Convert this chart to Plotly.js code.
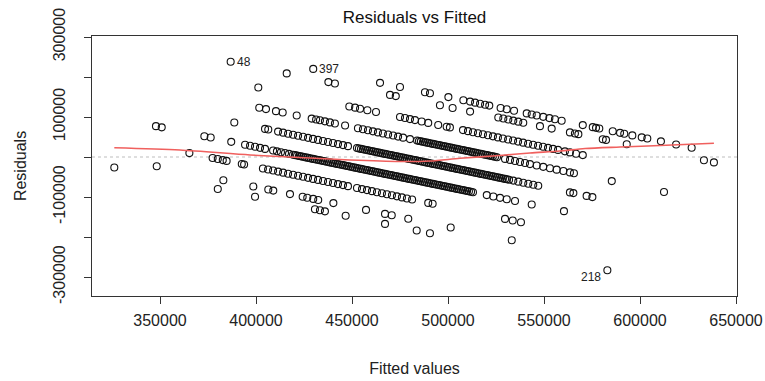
<!DOCTYPE html>
<html>
<head>
<meta charset="utf-8">
<script src="https://cdn.plot.ly/plotly-3.0.1.min.js"></script>
<style>html,body{margin:0;padding:0;background:#fff;}#chart{width:765px;height:381px;}</style>
</head>
<body>
<div id="chart"></div>
<script>
// Points, grouped by the diagonal bands they sit on
var fit300 = [326200, 380100, 399500, 430700, 433300, 435900, 446700, 467200, 483700, 490600, 583000];
var res300 = [-26200, -80100, -99500, -130700, -133300, -135900, -146700, -167200, -183700, -190600, -283000];

var fit325 = [348300, 383000, 398600, 406400, 409000, 417700, 424300, 426700, 429800, 432400, 440300, 457300, 467200, 470700, 479300, 501400, 533200];
var res325 = [-23300, -58000, -73600, -81400, -84000, -92700, -99300, -101700, -104800, -107400, -115300, -132300, -142200, -145700, -154300, -176400, -208200];

var fit375 = [365300, 377400, 380100, 382700, 384700, 392600, 393800, 403600, 406300, 408900, 411500, 414100, 416700, 419300, 421900, 424500, 427100, 429700, 432300, 434900, 437500, 440100, 442700, 445300, 447900, 452600, 455200, 457800, 460400, 463000, 465600, 468200, 470800, 473400, 476000, 478600, 481300, 489700, 492000, 529700, 533700, 538000];
var res375 = [9700, -2400, -5100, -7700, -9700, -17600, -18800, -28600, -31300, -33900, -36500, -39100, -41700, -44300, -46900, -49500, -52100, -54700, -57300, -59900, -62500, -65100, -67700, -70300, -72900, -77600, -80200, -82800, -85400, -88000, -90600, -93200, -95800, -98400, -101000, -103600, -106300, -114700, -117000, -154700, -158700, -163000];

var fit425 = [347900, 350900, 373100, 376400, 387100, 394300, 396900, 399500, 402100, 404700, 408900, 410900, 413000, 415100, 417200, 419300, 421400, 423400, 425500, 427600, 429700, 431800, 433900, 435900, 438000, 440100, 442200, 444300, 446400, 448400, 450500, 452600, 454700, 456800, 458900, 460900, 463000, 465100, 467200, 469300, 471400, 473400, 475500, 477600, 479700, 481800, 483900, 485900, 488000, 490100, 492200, 494300, 496400, 498400, 500500, 502600, 504700, 506800, 508900, 510900, 513000, 520200, 523600, 527100, 530600, 534900, 543600, 560400];
var res425 = [77100, 74100, 51900, 48600, 37900, 30700, 28100, 25500, 22900, 20300, 16100, 14100, 12000, 9900, 7800, 5700, 3600, 1600, -500, -2600, -4700, -6800, -8900, -10900, -13000, -15100, -17200, -19300, -21400, -23400, -25500, -27600, -29700, -31800, -33900, -35900, -38000, -40100, -42200, -44300, -46400, -48400, -50500, -52600, -54700, -56800, -58900, -60900, -63000, -65100, -67200, -69300, -71400, -73400, -75500, -77600, -79700, -81800, -83900, -85900, -88000, -95200, -98600, -102100, -105600, -109900, -118600, -135400];
// more points packed in the solid black stretch of the same band
var fit425b = [420300, 422400, 424500, 426600, 428600, 430700, 432800, 434900, 437000, 439100, 441100, 443200, 445300, 447400, 449500, 451600, 453600, 455700, 457800, 459900, 462000, 464100, 466100, 468200, 470300, 472400, 474500, 476600, 478600, 480700, 482800, 484900, 487000, 489100, 491100, 493200, 495300, 497400, 499500, 501600, 503600, 505700, 507800, 509900, 512000];
var res425b = [4700, 2600, 500, -1600, -3600, -5700, -7800, -9900, -12000, -14100, -16100, -18200, -20300, -22400, -24500, -26600, -28600, -30700, -32800, -34900, -37000, -39100, -41100, -43200, -45300, -47400, -49500, -51600, -53600, -55700, -57800, -59900, -62000, -64100, -66100, -68200, -70300, -72400, -74500, -76600, -78600, -80700, -82800, -84900, -87000];

var fit475 = [388700, 404700, 406400, 411500, 414100, 416700, 419300, 421900, 424500, 427100, 429700, 432300, 434900, 437500, 440100, 442700, 445300, 447900, 452600, 454700, 456800, 458900, 460900, 463000, 465100, 467200, 469300, 471400, 473400, 475500, 477600, 479700, 481800, 483900, 485900, 488000, 490100, 492200, 494300, 496400, 498400, 500500, 502600, 504700, 506800, 508900, 510900, 513000, 515100, 517200, 519300, 521400, 523400, 525500, 527600, 529700, 531800, 534000, 536600, 539200, 541800, 544400, 547000, 563500, 565300, 572200, 575200];
var res475 = [86300, 70300, 68600, 63500, 60900, 58300, 55700, 53100, 50500, 47900, 45300, 42700, 40100, 37500, 34900, 32300, 29700, 27100, 22400, 20300, 18200, 16100, 14100, 12000, 9900, 7800, 5700, 3600, 1600, -500, -2600, -4700, -6800, -8900, -10900, -13000, -15100, -17200, -19300, -21400, -23400, -25500, -27600, -29700, -31800, -33900, -35900, -38000, -40100, -42200, -44300, -46400, -48400, -50500, -52600, -54700, -56800, -59000, -61600, -64200, -66800, -69400, -72000, -88500, -90300, -97200, -100200];
var fit475b = [453600, 455700, 457800, 459900, 462000, 464100, 466100, 468200, 470300, 472400, 474500, 476600, 478600, 480700, 482800, 484900, 487000, 489100, 491100, 493200, 495300, 497400, 499500, 501600, 503600, 505700, 507800, 509900, 512000, 514100, 516100, 518200, 520300, 522400, 524500, 526600, 528600, 530700];
var res475b = [21400, 19300, 17200, 15100, 13000, 10900, 8900, 6800, 4700, 2600, 500, -1600, -3600, -5700, -7800, -9900, -12000, -14100, -16100, -18200, -20300, -22400, -24500, -26600, -28600, -30700, -32800, -34900, -37000, -39100, -41100, -43200, -45300, -47400, -49500, -51600, -53600, -55700];

var fit525 = [401700, 405200, 410400, 413900, 421200, 429000, 431300, 433300, 435900, 438500, 441100, 446400, 453100, 455700, 458300, 460900, 463500, 466100, 468800, 471400, 474000, 476600, 480200, 483900, 485900, 488000, 490100, 492200, 494300, 496400, 498400, 500500, 502600, 504700, 506800, 508900, 510900, 513000, 515100, 517200, 519300, 521400, 523400, 525500, 529700, 532300, 534900, 537500, 540100, 542700, 546200, 549600, 553100, 556600, 560100, 563500, 565600, 585300, 612500];
var res525 = [123300, 119800, 114600, 111100, 103800, 96000, 93700, 91700, 89100, 86500, 83900, 78600, 71900, 69300, 66700, 64100, 61500, 58900, 56200, 53600, 51000, 48400, 44800, 41100, 39100, 37000, 34900, 32800, 30700, 28600, 26600, 24500, 22400, 20300, 18200, 16100, 14100, 12000, 9900, 7800, 5700, 3600, 1600, -500, -4700, -7300, -9900, -12500, -15100, -17700, -21200, -24600, -28100, -31600, -35100, -38500, -40600, -60300, -87500];
var fit525b = [484900, 487000, 489100, 491100, 493200, 495300, 497400, 499500, 501600, 503600, 505700, 507800, 509900, 512000, 514100, 516100, 518200, 520300, 522400, 524500];
var res525b = [40100, 38000, 35900, 33900, 31800, 29700, 27600, 25500, 23400, 21400, 19300, 17200, 15100, 13000, 10900, 8900, 6800, 4700, 2600, 500];

var fit575 = [401200, 448600, 451600, 454200, 458000, 462500, 475000, 477600, 480200, 482800, 486300, 489700, 494900, 499300, 501000, 507800, 510400, 513000, 515600, 518200, 520800, 523400, 526000, 528600, 531300, 533900, 536500, 539100, 541700, 544300, 546900, 549500, 552100, 554700, 557300, 560900, 563500, 566700, 570200];
var res575 = [173800, 126400, 123400, 120800, 117000, 112500, 100000, 97400, 94800, 92200, 88700, 85300, 80100, 75700, 74000, 67200, 64600, 62000, 59400, 56800, 54200, 51600, 49000, 46400, 43700, 41100, 38500, 35900, 33300, 30700, 28100, 25500, 22900, 20300, 17700, 14100, 11500, 8300, 4800];

var fit625 = [386800, 416000, 437700, 441100, 469800, 472800, 495800, 502400, 511500, 526200, 528800, 531400, 534000, 536600, 539200, 547900, 554000, 563500, 566100, 567900, 580600, 582300, 593100, 633300, 638500];
var res625 = [238200, 209000, 187300, 183900, 155200, 152200, 129200, 122600, 113500, 98800, 96200, 93600, 91000, 88400, 85800, 77100, 71000, 61500, 58900, 57100, 44400, 42700, 31900, -8300, -13500];

var fit650 = [429800, 464600, 475000, 488000, 490600, 500200, 508000, 511500, 514100, 516700, 519300, 521500, 527400, 530600, 534400, 541000, 543600, 546200, 549600, 552800, 555700, 559200, 570200, 575400, 577100, 578800, 585800, 589600, 591800, 596000, 600900, 603800, 610900, 618800, 626900];
var res650 = [220200, 185400, 175000, 162000, 159400, 149800, 142000, 138500, 135900, 133300, 130700, 128500, 122600, 119400, 115600, 109000, 106400, 103800, 100400, 97200, 94300, 90800, 79800, 74600, 72900, 71200, 64200, 60400, 58200, 54000, 49100, 46200, 39100, 31200, 23100];

// Smoother (red line)
var smoothFit = [326200, 360400, 396900, 422900, 449000, 475000, 490600, 506300, 527100, 542700, 558300, 571400, 589600, 610400, 638500];
var smoothRes = [23250, 17500, 5000, -1250, -7500, -11250, -10000, -3250, 3750, 10000, 15000, 21250, 25000, 28750, 34250];

// Labelled observations
var idLabels = ['48', '397', '218'];
var idFitted = [386800, 429800, 583000];
var idResid = [238200, 220200, -283000];
var idSide = ['right', 'right', 'left'];

// Axis ticks
var xTickVals = [350000, 400000, 450000, 500000, 550000, 600000, 650000];
var xTickText = ['350000', '400000', '450000', '500000', '550000', '600000', '650000'];
var yTickVals = [-300000, -200000, -100000, 0, 100000, 200000, 300000];
var yTickText = ['-300000', '', '-100000', '', '100000', '', '300000'];

var allFit = [].concat(fit300, fit325, fit375, fit425, fit425b, fit475, fit475b, fit525, fit525b, fit575, fit625, fit650);
var allRes = [].concat(res300, res325, res375, res425, res425b, res475, res475b, res525, res525b, res575, res625, res650);

var FONT = 'Liberation Sans, Arial, Helvetica, sans-serif';

var traces = [
  {
    type: 'scatter', mode: 'markers', x: allFit, y: allRes,
    marker: {symbol: 'circle-open', size: 7, color: '#111', line: {width: 1.1, color: '#111'}},
    hoverinfo: 'x+y', showlegend: false
  },
  {
    type: 'scatter', mode: 'lines', x: smoothFit, y: smoothRes,
    line: {color: '#F0605E', width: 1.6, shape: 'spline', smoothing: 0.8},
    hoverinfo: 'skip', showlegend: false
  }
];

var annotations = idLabels.map(function (lab, i) {
  var right = idSide[i] === 'right';
  return {
    x: idFitted[i], y: idResid[i], xref: 'x', yref: 'y', text: lab, showarrow: false,
    xanchor: right ? 'left' : 'right', yanchor: 'middle',
    xshift: right ? 4 : -4, yshift: right ? 0 : -7,
    font: {family: FONT, size: 12, color: '#222'}
  };
});

var layout = {
  width: 765, height: 381,
  margin: {l: 92, r: 28, t: 36, b: 85, pad: 0},
  paper_bgcolor: '#fff', plot_bgcolor: '#fff',
  font: {family: FONT, size: 16, color: '#222'},
  title: {text: 'Residuals vs Fitted', font: {family: FONT, size: 17, color: '#111'},
          x: 0.5, xref: 'paper', y: 1 - 17 / 381, yref: 'container', yanchor: 'middle'},
  xaxis: {
    range: [314583, 650521], tickvals: xTickVals, ticktext: xTickText,
    ticks: 'outside', ticklen: 7, tickwidth: 1, tickcolor: '#333', ticklabelstandoff: 3,
    showline: true, mirror: true, linecolor: '#333', linewidth: 1.2,
    showgrid: false, zeroline: false, automargin: false,
    tickfont: {family: FONT, size: 16, color: '#222'},
    title: {text: 'Fitted values', font: {family: FONT, size: 16, color: '#222'}, standoff: 34}
  },
  yaxis: {
    range: [-347500, 302500], tickvals: yTickVals, ticktext: yTickText,
    tickangle: -90,
    ticks: 'outside', ticklen: 7, tickwidth: 1, tickcolor: '#333', ticklabelstandoff: 12,
    showline: true, mirror: true, linecolor: '#333', linewidth: 1.2,
    showgrid: false, zeroline: false, automargin: false,
    tickfont: {family: FONT, size: 16, color: '#222'},
    title: {text: 'Residuals', font: {family: FONT, size: 16, color: '#222'}, standoff: 20}
  },
  annotations: annotations,
  shapes: [
    {type: 'line', xref: 'paper', x0: 0, x1: 1, yref: 'y', y0: 0, y1: 0,
     line: {color: '#bdbdbd', width: 1.2, dash: 'dot'}, layer: 'below'}
  ]
};

Plotly.newPlot('chart', traces, layout, {displayModeBar: false, staticPlot: true});
</script>
</body>
</html>
